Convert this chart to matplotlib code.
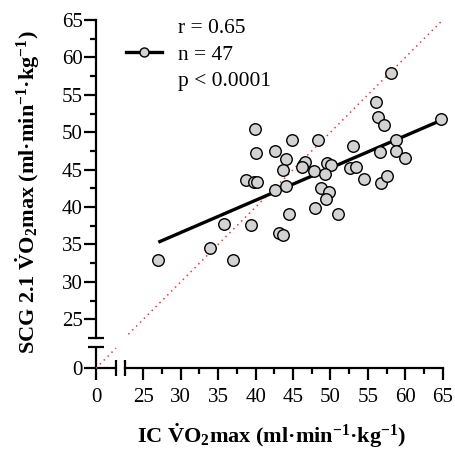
import numpy as np
import matplotlib
matplotlib.use("Agg")
import matplotlib.pyplot as plt
from matplotlib.lines import Line2D

plt.rcParams['font.family'] = ['Liberation Serif', 'DejaVu Serif']
plt.rcParams['mathtext.fontset'] = 'custom'
plt.rcParams['mathtext.rm'] = 'Liberation Serif:bold'
plt.rcParams['mathtext.it'] = 'Liberation Serif:bold:italic'
plt.rcParams['mathtext.bf'] = 'Liberation Serif:bold'

# ---- data ----
ic_vo2 = [27.0, 33.9, 36.95, 35.8, 39.4, 38.7, 39.85, 40.25, 39.95, 40.05,
          42.6, 44.0, 43.1, 43.7, 44.45, 42.65, 44.1, 43.6, 44.8, 46.4,
          46.65, 46.2, 47.75, 48.4, 49.55, 50.1, 49.25, 48.7, 49.85, 49.4,
          48.0, 50.95, 53.05, 52.6, 53.35, 54.5, 56.1, 56.3, 57.2, 58.1,
          56.65, 56.8, 57.6, 58.8, 58.8, 59.9, 64.75]
scg_vo2 = [32.9, 34.5, 32.9, 37.7, 37.6, 43.6, 43.4, 43.4, 50.45, 47.2,
           42.3, 42.8, 36.5, 36.2, 39.1, 47.5, 46.4, 45.0, 49.0, 45.6,
           46.0, 45.4, 44.8, 48.9, 45.9, 45.6, 44.4, 42.5, 42.0, 41.05,
           39.85, 39.1, 48.15, 45.2, 45.4, 43.8, 54.0, 52.0, 51.0, 57.9,
           47.3, 43.2, 44.2, 48.9, 47.5, 46.5, 51.75]
fit_x = [27.0, 64.8]
fit_y = [35.3, 51.6]
identity_upper = [23.0, 65.0]
identity_lower = [0.0, 2.7]
stats_labels = ['r = 0.65', 'n = 47', 'p < 0.0001']
ticks_major = [0, 25, 30, 35, 40, 45, 50, 55, 60, 65]
ticks_minor = [27.5, 32.5, 37.5, 42.5, 47.5, 52.5, 57.5, 62.5]

# ---- broken-axis scales ----
PX = 7.48  # pixels per unit
def make_scale(lo_end, hi_start, gap_px):
    u_lo = lo_end
    u_hi = lo_end + gap_px / PX
    xs = np.array([-1000.0, 0.0, lo_end, hi_start, 1000.0])
    us = np.array([-1000.0, 0.0, u_lo, u_hi, u_hi + (1000.0 - hi_start)])
    def fwd(v):
        return np.interp(v, xs, us)
    def inv(u):
        return np.interp(u, us, xs)
    return fwd, inv

X_LO, X_HI = 2.67, 22.55
Y_LO, Y_HI = 2.9, 22.46
fx, ix = make_scale(X_LO, X_HI, 9.0)
fy, iy = make_scale(Y_LO, Y_HI, 8.3)

W, H = 456, 450
fig = plt.figure(figsize=(W / 100, H / 100), dpi=100)
left, right, bottom, top = 96.0, 442.7, 368.3, 20.0
ax = fig.add_axes([left / W, (H - bottom) / H, (right - left) / W, (bottom - top) / H])
ax.set_xscale('function', functions=(fx, ix))
ax.set_yscale('function', functions=(fy, iy))
ax.set_xlim(0, 65)
ax.set_ylim(0, 65)
ax.patch.set_visible(False)

lw_ax = 1.6
for s in ['top', 'right']:
    ax.spines[s].set_visible(False)
ax.spines['left'].set_bounds(Y_HI, 65)
ax.spines['bottom'].set_bounds(X_HI, 65)
ax.spines['left'].set_linewidth(lw_ax)
ax.spines['bottom'].set_linewidth(lw_ax)

# lower segments of the broken axes and break caps
ax.plot([0, 0], [0, Y_LO], color='k', lw=lw_ax, clip_on=False, solid_capstyle='butt')
ax.plot([0, X_LO], [0, 0], color='k', lw=lw_ax, clip_on=False, solid_capstyle='butt')
ax.plot([0, 0], [Y_LO, Y_HI], ls='none', marker='_', ms=11, mew=lw_ax, color='k', clip_on=False)
ax.plot([X_LO, X_HI], [0, 0], ls='none', marker='|', ms=11, mew=lw_ax, color='k', clip_on=False)

ax.set_xticks(ticks_major)
ax.set_yticks(ticks_major)
ax.set_xticks(ticks_minor, minor=True)
ax.set_yticks(ticks_minor, minor=True)
ax.set_xticklabels([str(t) for t in ticks_major])
ax.set_yticklabels([str(t) for t in ticks_major])
ax.tick_params(which='major', direction='out', length=8.5, width=lw_ax, labelsize=15)
ax.tick_params(which='minor', direction='out', length=4.3, width=lw_ax)
ax.tick_params(axis='y', which='major', pad=1.0)
ax.tick_params(axis='x', which='major', pad=6)

# identity line
ax.plot(identity_upper, identity_upper, color='#ff3030', lw=1.1, ls=(0, (1, 2.6)), clip_on=False)
ax.plot(identity_lower, identity_lower, color='#ff3030', lw=1.1, ls=(0, (1, 2.6)), clip_on=False)

# regression line
ax.plot(fit_x, fit_y, color='k', lw=2.4, solid_capstyle='butt', zorder=3)

# data
gray = '#d3d3d3'
ax.plot(ic_vo2, scg_vo2, ls='none', marker='o', ms=8.3, mfc=gray, mec='k', mew=1.0,
        zorder=4, clip_on=False)

# legend
handles = [Line2D([], [], ls='none'),
           Line2D([], [], color='k', lw=2.4, marker='o', ms=6.5, mfc=gray, mec='k', mew=1.0),
           Line2D([], [], ls='none')]
fig.legend(handles, stats_labels, loc='upper left', bbox_to_anchor=(126 / W, 1 - 18 / H),
           bbox_transform=fig.transFigure, frameon=False, fontsize=15.5,
           handlelength=1.65, handletextpad=0.75, labelspacing=0.3,
           borderpad=0, borderaxespad=0)

# axis labels
fig.text(271.5 / W, 1 - 443 / H,
         r'IC $\mathrm{\dot{V}O_{2}}$max (ml·min$^{\mathrm{-1}}$·kg$^{\mathrm{-1}}$)',
         ha='center', va='baseline', fontsize=16, fontweight='bold')
fig.text(28 / W, 1 - 192 / H,
         r'SCG 2.1 $\mathrm{\dot{V}O_{2}}$max (ml·min$^{\mathrm{-1}}$·kg$^{\mathrm{-1}}$)',
         ha='center', va='center', rotation=90, fontsize=16, fontweight='bold')

fig.savefig('out.png', dpi=100)
